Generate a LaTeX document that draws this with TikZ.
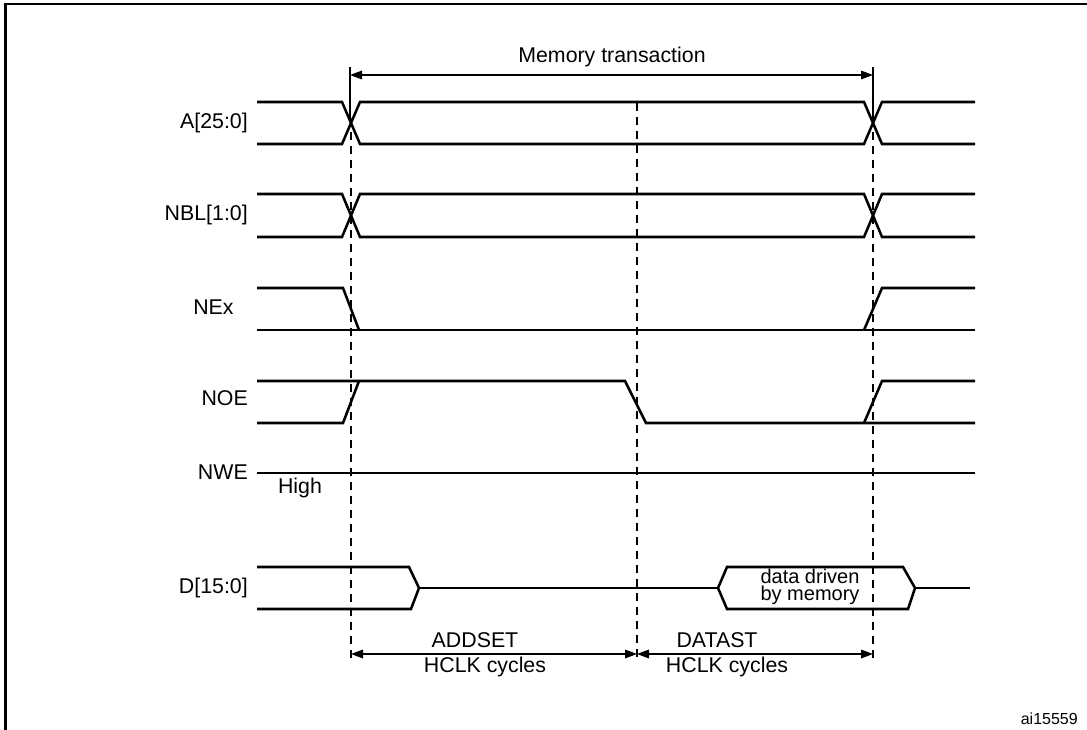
\documentclass[tikz,border=0pt]{standalone}
\usepackage{fontspec}
\setmainfont{Liberation Sans}
\usetikzlibrary{arrows.meta}
\begin{document}
\begin{tikzpicture}[x=0.75pt,y=-0.75pt,
 sig/.style={line width=1.9pt, line join=miter},
 guide/.style={line width=0.9pt, dash pattern=on 6pt off 4.5pt},
 tick/.style={line width=0.8pt},
 dim/.style={line width=0.8pt, {Triangle[length=9pt,width=6.5pt]}-{Triangle[length=9pt,width=6.5pt]}},
 lbl/.style={font=\fontsize{16}{18}\selectfont, inner sep=0pt},
 dlbl/.style={font=\fontsize{15}{17}\selectfont, inner sep=0pt, anchor=base},
 small/.style={font=\fontsize{12}{14}\selectfont, inner sep=0pt},
]
\useasboundingbox (0,0) rectangle (1087,730);
\draw[line width=1.6pt] (5.5,730) -- (5.5,4) -- (1087,4);

% key time coordinates
\coordinate (mtL) at (350,67);
\coordinate (mtLb) at (350,118);
\coordinate (mtR) at (873,67);
\coordinate (mtRb) at (873,118);
\coordinate (mA) at (350,75);
\coordinate (mB) at (873,75);
\coordinate (g1t) at (351,118);
\coordinate (g1b) at (351,664);
\coordinate (g2t) at (637,103);
\coordinate (g2b) at (637,663);
\coordinate (g3t) at (873,118);
\coordinate (g3b) at (873,660);
\coordinate (d1) at (351,654);
\coordinate (d2) at (637,654);
\coordinate (d3) at (873,654);

% memory transaction
\draw[tick] (mtL) -- (mtLb);
\draw[tick] (mtR) -- (mtRb);
\draw[dim] (mA) -- (mB);
\node[lbl] (mt) at (612,57) {Memory transaction};

% guides
\draw[guide] (g1t) -- (g1b);
\draw[guide] (g2t) -- (g2b);
\draw[guide] (g3t) -- (g3b);

% labels
\node[lbl, anchor=east] (la) at (248,123) {A[25:0]};
\node[lbl, anchor=east] (lnbl) at (248,215) {NBL[1:0]};
\node[lbl, anchor=west] (lnex) at (193,307) {NEx};
\node[lbl, anchor=east] (lnoe) at (248,398) {NOE};
\node[lbl, anchor=east] (lnwe) at (248,472) {NWE};
\node[lbl] (lhigh) at (300,488) {High};
\node[lbl, anchor=east] (ld) at (248,588) {D[15:0]};

% A[25:0]
\draw[sig] (257,102) -- (342,102) -- (360,144) -- (864,144) -- (882,102) -- (975,102);
\draw[sig] (257,144) -- (342,144) -- (360,102) -- (864,102) -- (882,144) -- (975,144);
% NBL[1:0]
\draw[sig] (257,194) -- (342,194) -- (360,237) -- (864,237) -- (882,194) -- (975,194);
\draw[sig] (257,237) -- (342,237) -- (360,194) -- (864,194) -- (882,237) -- (975,237);
% NEx
\draw[sig] (257,288) -- (343,288) -- (359,330);
\draw[sig] (257,330) -- (975,330);
\draw[sig] (864,330) -- (882,288) -- (975,288);
% NOE
\draw[sig] (257,423) -- (343,423) -- (359,381);
\draw[sig] (257,381) -- (625,381) -- (646,423) -- (975,423);
\draw[sig] (864,423) -- (882,381) -- (975,381);
% NWE
\draw[sig] (257,473) -- (975,473);
% D[15:0]
\draw[sig] (257,567) -- (409,567) -- (419,588) -- (411,609) -- (257,609);
\draw[sig] (419,588) -- (718,588);
\draw[sig] (718,588) -- (727,567) -- (903,567) -- (915,588) -- (908,609) -- (727,609) -- cycle;
\draw[sig] (915,588) -- (970,588);
\node[dlbl] (dd1) at (810,583) {data driven};
\node[dlbl] (dd2) at (810,600) {by memory};

% durations
\draw[dim] (d1) -- (d2);
\draw[dim] (d2) -- (d3);
\node[lbl] (addset) at (475,640) {ADDSET};
\node[lbl] (hc1) at (485,667) {HCLK cycles};
\node[lbl] (datast) at (717,640) {DATAST};
\node[lbl] (hc2) at (727,667) {HCLK cycles};

\node[small, anchor=east] (id) at (1078,719) {ai15559};
\end{tikzpicture}
\end{document}
